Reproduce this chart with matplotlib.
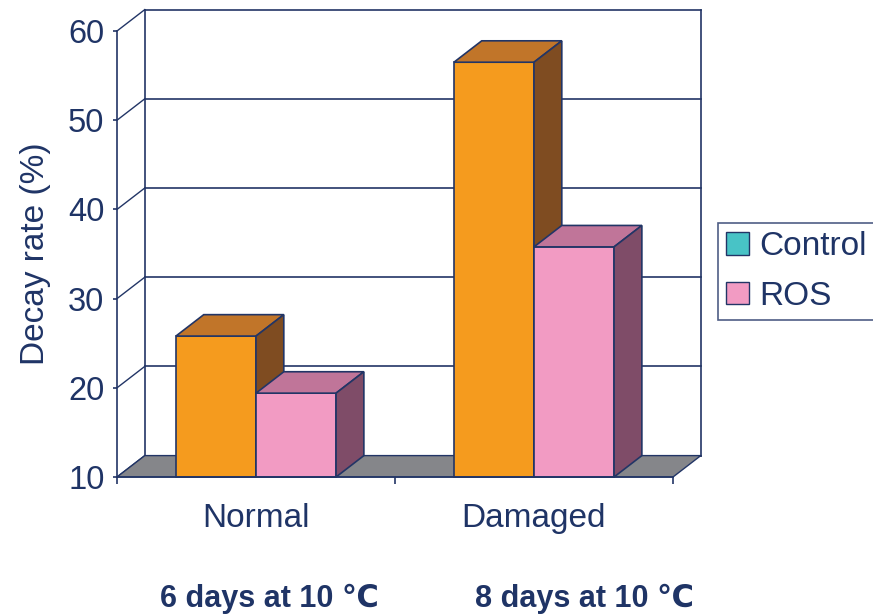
"""Decay rate of Normal vs Damaged samples, drawn as an Excel-style 3D column chart."""

import matplotlib

matplotlib.use("Agg")

import matplotlib.pyplot as plt
from matplotlib.patches import Patch, Polygon

CATEGORIES = ["Normal", "Damaged"]
STORAGE = ["6 days at 10 \u2103", "8 days at 10 \u2103"]
SERIES = ["Control", "ROS"]
CONTROL = [25.8, 56.5]
ROS = [19.4, 35.8]
Y_TICKS = [10, 20, 30, 40, 50, 60]

NAVY = "#223566"
TEXT = "#1f3466"
FLOOR = "#85868a"
# front / top / side shades for each series
SHADES = {
    "Control": ("#f59b1e", "#c17529", "#7f4c21"),
    "ROS": ("#f29bc3", "#c07599", "#7f4c68"),
}
LEGEND_COLORS = {"Control": "#48c3c6", "ROS": "#f29bc3"}

BAR_W = 0.288
DX, DY = 0.1, 2.4  # depth offset of the back plane, in data units

plt.rcParams["font.family"] = ["Liberation Sans", "DejaVu Sans"]

fig = plt.figure(figsize=(8.73, 6.16), dpi=100)
ax = fig.add_axes([117 / 873, 139 / 616, 556 / 873, 446 / 616])
ymin, ymax = Y_TICKS[0], Y_TICKS[-1]
ax.set_xlim(0, len(CATEGORIES))
ax.set_ylim(ymin, ymax)

# back wall grid and the diagonals running back from the front axis
for v in Y_TICKS:
    ax.plot([DX, len(CATEGORIES) + DX], [v + DY, v + DY], color=NAVY, lw=1.2,
            clip_on=False, zorder=1)
    ax.plot([0, DX], [v, v + DY], color=NAVY, lw=1.0, clip_on=False, zorder=1)
for x in (DX, len(CATEGORIES) + DX):
    ax.plot([x, x], [ymin + DY, ymax + DY], color=NAVY, lw=1.2, clip_on=False, zorder=1)

# floor
n = len(CATEGORIES)
ax.add_patch(Polygon([(0, ymin), (n, ymin), (n + DX, ymin + DY), (DX, ymin + DY)],
                     closed=True, facecolor=FLOOR, edgecolor=NAVY, lw=1.0,
                     clip_on=False, zorder=2))


def draw_bar(x0, value, name):
    front, top, side = SHADES[name]
    x1 = x0 + BAR_W
    kw = dict(closed=True, edgecolor=NAVY, lw=1.2, clip_on=False, zorder=3)
    ax.add_patch(Polygon([(x0, ymin), (x1, ymin), (x1, value), (x0, value)],
                         facecolor=front, **kw))
    ax.add_patch(Polygon([(x0, value), (x1, value), (x1 + DX, value + DY),
                          (x0 + DX, value + DY)], facecolor=top, **kw))
    ax.add_patch(Polygon([(x1, ymin), (x1 + DX, ymin + DY), (x1 + DX, value + DY),
                          (x1, value)], facecolor=side, **kw))


for i in range(n):
    c = i + 0.5
    draw_bar(c - BAR_W, CONTROL[i], "Control")
    draw_bar(c, ROS[i], "ROS")

# axes styling
for s in ("top", "right"):
    ax.spines[s].set_visible(False)
for s in ("left", "bottom"):
    ax.spines[s].set_color(NAVY)
    ax.spines[s].set_linewidth(1.2)
    ax.spines[s].set_zorder(4)

ax.set_yticks(Y_TICKS)
ax.tick_params(axis="y", colors=NAVY, labelcolor=TEXT, labelsize=23.5, length=3,
               width=1.2, pad=6)
ax.set_xticks([i + 0.5 for i in range(n)])
ax.set_xticklabels(CATEGORIES)
ax.tick_params(axis="x", which="major", length=0, labelcolor=TEXT, labelsize=24, pad=19)
ax.set_xticks(range(n + 1), minor=True)
ax.tick_params(axis="x", which="minor", length=5, width=1.2, color=NAVY)
ax.set_ylabel("Decay rate (%)", fontsize=24, color=TEXT, labelpad=12)
ax.patch.set_alpha(0)

for label, xf in zip(STORAGE, (269 / 873, 584 / 873)):
    fig.text(xf, 1 - 599 / 616, label, ha="center", va="center", fontsize=22,
             fontweight="bold", color=TEXT)

handles = [Patch(facecolor=LEGEND_COLORS[s], edgecolor=NAVY, lw=1.0) for s in SERIES]
leg = fig.legend(handles, SERIES, loc="upper left", bbox_to_anchor=(718 / 873, 1 - 223 / 616),
                 fontsize=24, frameon=True, fancybox=False, handlelength=0.68,
                 handleheight=0.68, handletextpad=0.3, labelspacing=0.55,
                 borderpad=0.25, borderaxespad=0)
leg.get_frame().set_edgecolor(NAVY)
leg.get_frame().set_linewidth(1.2)
for t in leg.get_texts():
    t.set_color(TEXT)

fig.savefig("out.png", dpi=100)
